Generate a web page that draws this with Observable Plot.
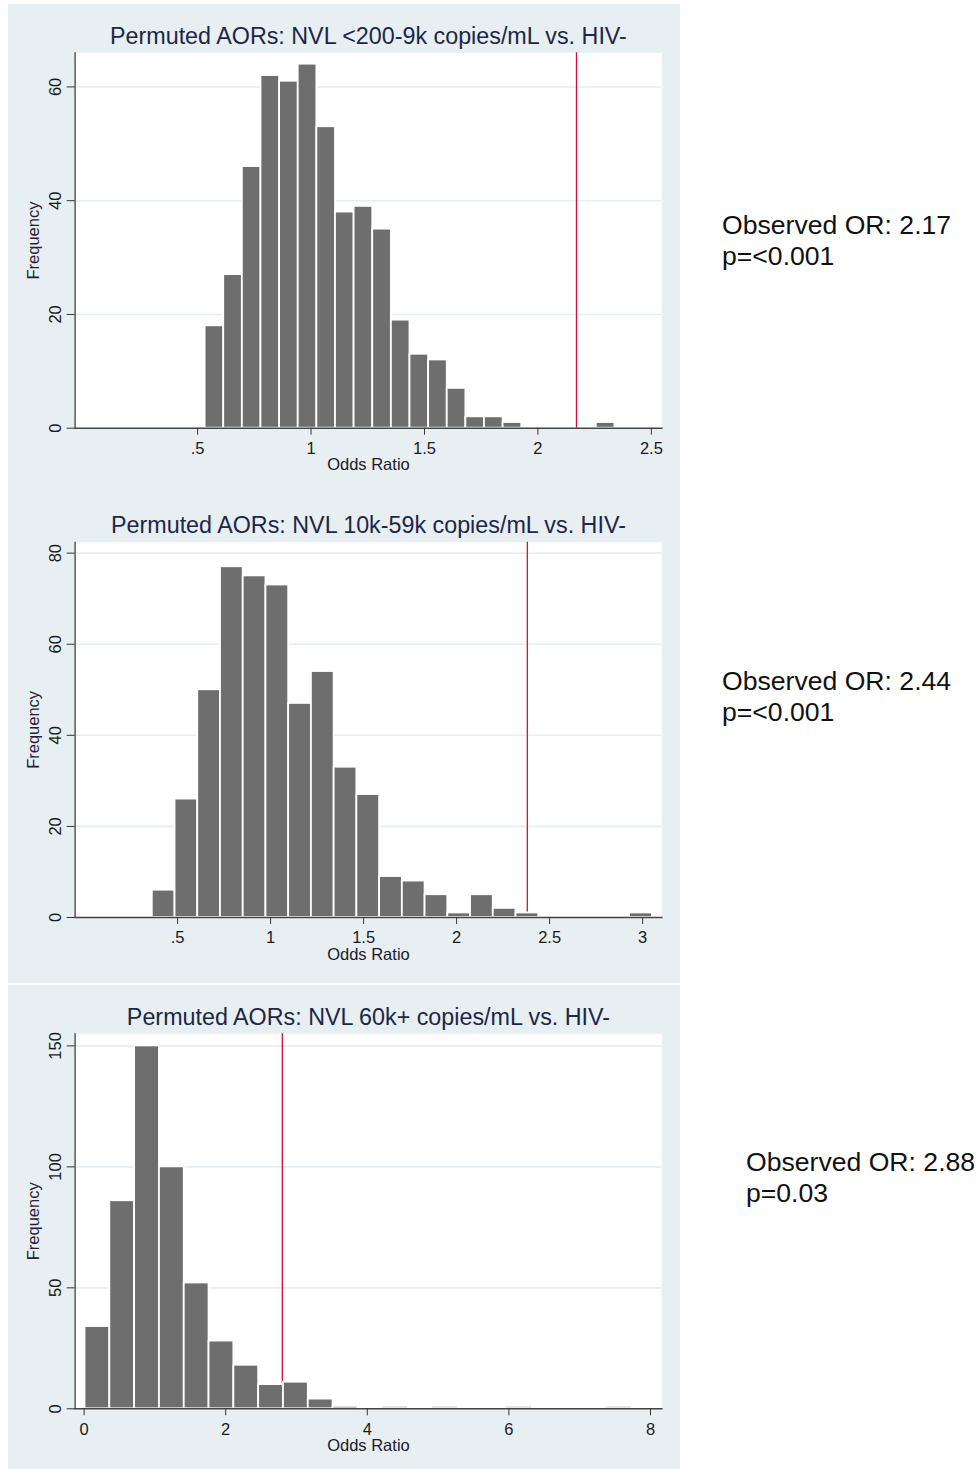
<!DOCTYPE html>
<html>
<head>
<meta charset="utf-8">
<script src="https://cdn.jsdelivr.net/npm/d3@7"></script>
<script src="https://cdn.jsdelivr.net/npm/@observablehq/plot@0.6"></script>
<style>
  html, body { margin: 0; padding: 0; background: #ffffff; }
  #root { position: relative; width: 980px; height: 1469px; overflow: hidden; font-family: "Liberation Sans", Arial, sans-serif; }
  .panel { position: absolute; left: 8px; }
  .note { position: absolute; font-size: 26.6px; line-height: 31px; color: #111; white-space: nowrap; }
</style>
</head>
<body>
<div id="root"></div>
<script>
// ---- data ----
const titles = [
  "Permuted AORs: NVL <200-9k copies/mL vs. HIV-",
  "Permuted AORs: NVL 10k-59k copies/mL vs. HIV-",
  "Permuted AORs: NVL 60k+ copies/mL vs. HIV-"
];
// histogram bin counts (22 bins each)
const counts1 = [18, 27, 46, 62, 61, 64, 53, 38, 39, 35, 19, 13, 12, 7, 2, 2, 1, 0, 0, 0, 0, 1];
const counts2 = [6, 26, 50, 77, 75, 73, 47, 54, 33, 27, 9, 8, 5, 1, 5, 2, 1, 0, 0, 0, 0, 1];
const counts3 = [34, 86, 150, 100, 52, 28, 18, 10, 11, 4, 1, 0, 1, 0, 1, 0, 0, 1, 0, 0, 0, 1];
const faintBins3 = [12, 14, 17, 21]; // bins drawn in very light grey
// bin start and width (odds ratio units)
const binStart = [0.533, 0.364, 0.013];
const binWidth = [0.0821, 0.1222, 0.3504];
// observed odds-ratio reference lines (as positioned in the picture)
const observedLine = [2.17, 2.38, 2.80];
// axis ticks
const xTicks1 = [0.5, 1, 1.5, 2, 2.5];
const xTicks2 = [0.5, 1, 1.5, 2, 2.5, 3];
const xTicks3 = [0, 2, 4, 6, 8];
const yTicks1 = [0, 20, 40, 60];
const yTicks2 = [0, 20, 40, 60, 80];
const yTicks3 = [0, 50, 100, 150];
// axis extents
const xDomains = [[-0.040, 2.546], [-0.051, 3.103], [-0.127, 8.160]];
const yMax = [66.0, 82.4, 155];
// annotations on the right
const obsLabels = ["Observed OR: 2.17", "Observed OR: 2.44", "Observed OR: 2.88"];
const pLabels = ["p=<0.001", "p=<0.001", "p=0.03"];

// ---- layout ----
const layout = [
  {top: 4,   height: 486, mt: 48.3, mb: 62.3, noteLeft: 722, noteTop: 210},
  {top: 490, height: 493, mt: 51.7, mb: 66.0, noteLeft: 722, noteTop: 666},
  {top: 985, height: 484, mt: 48.3, mb: 60.7, noteLeft: 746, noteTop: 1147}
];
const allCounts = [counts1, counts2, counts3];
const allXTicks = [xTicks1, xTicks2, xTicks3];
const allYTicks = [yTicks1, yTicks2, yTicks3];
const faint = [[], [], faintBins3];

const root = document.getElementById("root");
const font = "'Liberation Sans', Arial, sans-serif";
const fmt = d => String(d).replace(/^0\./, ".");

for (let p = 0; p < 3; p++) {
  const L = layout[p];
  const bins = allCounts[p].map((c, i) => ({
    x1: binStart[p] + i * binWidth[p],
    x2: binStart[p] + (i + 1) * binWidth[p],
    count: c,
    faint: faint[p].includes(i)
  })).filter(d => d.count > 0);

  const chart = Plot.plot({
    width: 672,
    height: L.height,
    marginLeft: 66.6,
    marginRight: 18.7,
    marginTop: L.mt,
    marginBottom: L.mb,
    style: {background: "#e8eff2", fontFamily: font, color: "#1a1a1a", overflow: "visible"},
    x: {domain: xDomains[p]},
    y: {domain: [0, yMax[p]]},
    marks: [
      Plot.frame({fill: "white", stroke: "none"}),
      Plot.ruleY(allYTicks[p].slice(1), {stroke: "#e6eef1", strokeWidth: 1.6}),
      Plot.ruleX([observedLine[p]], {stroke: "#d0103a", strokeWidth: 1.3}),
      Plot.rectY(bins, {
        x1: "x1", x2: "x2", y: "count",
        fill: d => d.faint ? "#e4e4e4" : "#6e6e6e",
        stroke: d => d.faint ? "none" : "white",
        strokeWidth: 1.8
      }),
      Plot.frame({anchor: "left", stroke: "#222", strokeWidth: 1.1}),
      Plot.frame({anchor: "bottom", stroke: "#444", strokeWidth: 1.6}),
      Plot.axisY({ticks: allYTicks[p], tickSize: 8, tickPadding: 6.5, tickRotate: -90,
                  fontSize: 16.5, label: null, stroke: "#333"}),
      Plot.axisX({ticks: allXTicks[p], tickSize: 7, tickPadding: 7, tickFormat: fmt,
                  fontSize: 16.5, label: null, stroke: "#333"}),
      Plot.text([titles[p]], {text: d => d, frameAnchor: "top", lineAnchor: "bottom", dy: -9,
                  fontSize: 23.3, fill: "#1c2747"}),
      Plot.text(["Odds Ratio"], {text: d => d, frameAnchor: "bottom", lineAnchor: "top", dy: 30.5,
                  fontSize: 16.5, fill: "#1a1a2a"}),
      Plot.text(["Frequency"], {text: d => d, frameAnchor: "left", textAnchor: "middle",
                  lineAnchor: "bottom", rotate: -90,
                  dx: -36, fontSize: 16.5, fill: "#2a1c3a"})
    ]
  });
  const wrap = document.createElement("div");
  wrap.className = "panel";
  wrap.style.top = L.top + "px";
  wrap.appendChild(chart);
  root.appendChild(wrap);

  const note = document.createElement("div");
  note.className = "note";
  note.style.left = L.noteLeft + "px";
  note.style.top = L.noteTop + "px";
  note.innerHTML = obsLabels[p] + "<br>" + pLabels[p];
  root.appendChild(note);
}
</script>
</body>
</html>
